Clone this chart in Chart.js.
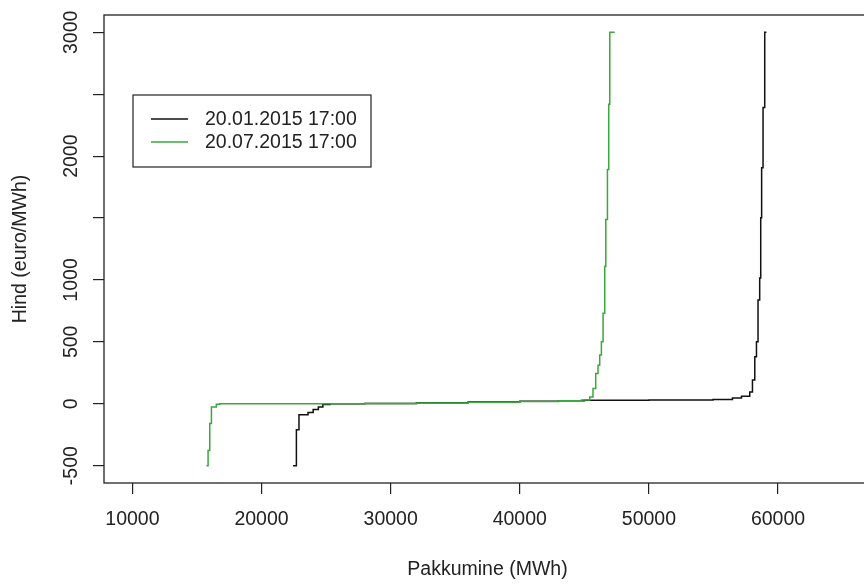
<!DOCTYPE html>
<html>
<head>
<meta charset="utf-8">
<script src="https://cdn.jsdelivr.net/npm/chart.js@4"></script>
<style>
html,body{margin:0;padding:0;overflow:hidden;background:#fff;}
#wrap{width:880px;height:586px;}
</style>
</head>
<body>
<div id="wrap"><canvas id="c" width="880" height="586"></canvas></div>
<script>
// ---- data ----
const seriesLabels = ['20.01.2015 17:00', '20.07.2015 17:00'];
const seriesColors = ['#111111', '#3aa83a'];

const janX = [22440, 22700, 22900, 23600, 24000, 24400, 24750, 25300, 28000, 32000, 36000, 40000, 43000, 45000, 50000, 54970, 56470, 57170, 57810, 58020, 58200, 58330, 58450, 58580, 58660, 58730, 58840, 58970, 59100];
const janY = [-500, -209, -88, -71, -47, -26, -6, 0, 2, 8, 14, 20, 25, 28, 31, 34, 47, 61, 96, 191, 379, 501, 839, 1015, 1502, 1907, 2393, 3000, 3000];

const julX = [15730, 15860, 15990, 16120, 16500, 16760, 20000, 25000, 28000, 32000, 36000, 40000, 43000, 44770, 45420, 45670, 45880, 46060, 46190, 46320, 46450, 46580, 46660, 46790, 46890, 46970, 47350];
const julY = [-500, -377, -160, -26, -4, 0, 0.5, 1, 2, 7, 13, 19, 24, 30, 55, 123, 245, 312, 393, 501, 731, 1109, 1488, 1893, 2420, 3000, 3000];

const xTicks = [10000, 20000, 30000, 40000, 50000, 60000];
const yTicks = [-500, 0, 500, 1000, 1500, 2000, 2500, 3000];
const yTickLabels = ['-500', '0', '500', '1000', '', '2000', '', '3000'];

const xTitle = 'Pakkumine (MWh)';
const yTitle = 'Hind (euro/MWh)';

// ---- chart ----
const FONT = "'Liberation Sans', Arial, sans-serif";
const fontSpec = {family: FONT, size: 19.5, lineHeight: 1.2};

const toPts = (xs, ys) => xs.map((x, i) => ({x: x, y: ys[i]}));

const frame = {
  id: 'frame',
  afterDraw(chart) {
    const {ctx, chartArea: a} = chart;
    ctx.save();
    ctx.strokeStyle = '#222';
    ctx.lineWidth = 1.3;
    ctx.strokeRect(a.left, a.top, a.right - a.left, a.bottom - a.top);
    // legend
    const bx = 133, by = 95, bw = 238, bh = 72;
    ctx.fillStyle = '#fff';
    ctx.fillRect(bx, by, bw, bh);
    ctx.lineWidth = 1.2;
    ctx.strokeStyle = '#222';
    ctx.strokeRect(bx, by, bw, bh);
    ctx.font = "19.5px " + FONT;
    ctx.textBaseline = 'middle';
    ctx.textAlign = 'left';
    chart.data.datasets.forEach((ds, i) => {
      const y = 119 + i * 23;
      ctx.strokeStyle = ds.borderColor;
      ctx.lineWidth = 1.4;
      ctx.beginPath();
      ctx.moveTo(151, y);
      ctx.lineTo(188, y);
      ctx.stroke();
      ctx.fillStyle = '#222';
      ctx.fillText(ds.label, 205, y + 1);
    });
    ctx.restore();
  }
};

new Chart(document.getElementById('c'), {
  type: 'line',
  data: {
    datasets: [
      {label: seriesLabels[0], data: toPts(janX, janY), order: 1, borderColor: seriesColors[0], borderWidth: 1.5, stepped: 'before', pointRadius: 0, tension: 0},
      {label: seriesLabels[1], data: toPts(julX, julY), order: 0, borderColor: seriesColors[1], borderWidth: 1.5, stepped: 'before', pointRadius: 0, tension: 0}
    ]
  },
  options: {
    responsive: false,
    animation: false,
    events: [],
    layout: {padding: {top: 15, right: 9, left: 0, bottom: 0}},
    plugins: {legend: {display: false}, tooltip: {enabled: false}},
    scales: {
      x: {
        type: 'linear',
        min: 7800,
        max: 67200,
        afterBuildTicks: s => { s.ticks = xTicks.map(v => ({value: v})); },
        afterFit: s => { s.height = 103; },
        border: {display: false},
        grid: {drawOnChartArea: false, drawTicks: true, tickLength: 11, color: '#222', lineWidth: 1.2},
        ticks: {color: '#222', font: fontSpec, padding: 14, maxRotation: 0, minRotation: 0, callback: v => String(v)},
        title: {display: true, text: xTitle, color: '#222', font: fontSpec, padding: {top: 0, bottom: 4.6}}
      },
      y: {
        type: 'linear',
        min: -640,
        max: 3140,
        afterBuildTicks: s => { s.ticks = yTicks.map(v => ({value: v})); },
        afterFit: s => { s.width = 104; },
        border: {display: false},
        grid: {drawOnChartArea: false, drawTicks: true, tickLength: 11, color: '#222', lineWidth: 1.2},
        ticks: {color: '#222', font: fontSpec, padding: 0, minRotation: 90, maxRotation: 90, crossAlign: 'center',
          callback: v => { const i = yTicks.indexOf(v); return i >= 0 ? yTickLabels[i] : ''; }},
        title: {display: true, text: yTitle, color: '#222', font: fontSpec, padding: {top: 9, bottom: 0}}
      }
    }
  },
  plugins: [frame]
});
</script>
</body>
</html>
